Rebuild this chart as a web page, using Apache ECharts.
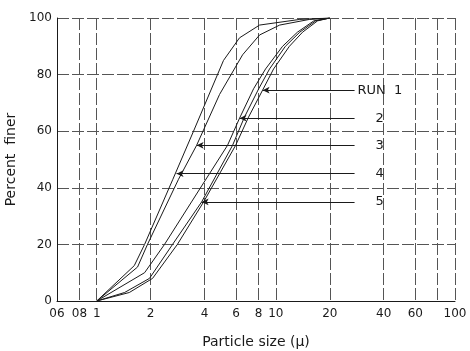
<!DOCTYPE html>
<html>
<head>
<meta charset="utf-8">
<script src="https://cdn.jsdelivr.net/npm/echarts@6/dist/echarts.min.js"></script>
<style>
html,body{margin:0;padding:0;background:#fff;}
#chart{width:470px;height:351px;}
</style>
</head>
<body>
<div id="chart"></div>
<script>
// Tick values and labels
const sizeTicks = [0.6, 0.8, 1, 2, 4, 6, 8, 10, 20, 40, 60, 80, 100];
const sizeTickLabels = ['06', '08', '1', '2', '4', '6', '8', '10', '20', '40', '60', '80', '100'];
const finerTicks = [0, 20, 40, 60, 80, 100];

// Curves: particle size (micron) vs percent finer
const run1Size = [1, 1.52, 2.05, 2.82, 3.95, 5.96, 7.04, 8.43, 9.71, 11.9, 14.1, 17.1, 20];
const run1Finer = [0, 3, 8, 20, 35, 55, 65, 74.5, 82, 90, 95, 99, 100];
const run2Size = [1, 1.85, 2.39, 3.38, 5.37, 6.27, 7.51, 8.76, 10.9, 13.2, 16.3, 20];
const run2Finer = [0, 10, 20, 35, 55, 64.6, 75, 82, 90, 95, 99, 100];
const run3Size = [1, 1.69, 1.92, 2.86, 3.61, 4.85, 6.52, 8.11, 10.5, 15.4, 20];
const run3Finer = [0, 12, 20, 43, 55, 73, 87, 94, 97.5, 99.5, 100];
const run4Size = [1, 1.62, 1.85, 2.66, 3.47, 5.1, 6.27, 8.11, 13.6, 20];
const run4Finer = [0, 12.5, 20, 43, 60, 85, 93, 97.5, 99.5, 100];
const run5Size = [1, 1.43, 1.97, 2.65, 3.85, 5.73, 6.68, 8.02, 9.22, 11.3, 13.6, 16.7, 20];
const run5Finer = [0, 3, 8, 20, 35, 55, 65, 75, 82, 90, 95, 99, 100];

// Callout arrows: label, tip size, tip percent, label end size
const runLabels = ['RUN  1', '2', '3', '4', '5'];
const arrowTipSize = [8.43, 6.27, 3.61, 2.79, 3.85];
const arrowTipFiner = [74.5, 64.6, 55, 45, 35];
const arrowEndSize = 27.5;

const runSizes = [run1Size, run2Size, run3Size, run4Size, run5Size];
const runFiners = [run1Finer, run2Finer, run3Finer, run4Finer, run5Finer];

const FONT = 'DejaVu Sans';
const INK = '#1a1a1a';
const GRIDC = '#555';

const series = runSizes.map((xs, i) => ({
  type: 'line',
  name: runLabels[i],
  data: xs.map((x, j) => [x, runFiners[i][j]]),
  showSymbol: false,
  symbol: 'none',
  lineStyle: { color: INK, width: 1 },
  z: 5,
  markLine: {
    silent: true,
    symbol: ['arrow', 'none'],
    symbolSize: [5, 7],
    lineStyle: { color: INK, width: 1, type: 'solid' },
    label: {
      show: true,
      position: 'end',
      formatter: runLabels[i],
      distance: i === 0 ? 3 : 21,
      fontFamily: FONT,
      fontSize: 13,
      color: INK
    },
    emphasis: { disabled: true },
    data: [[
      { coord: [arrowTipSize[i], arrowTipFiner[i]] },
      { coord: [arrowEndSize, arrowTipFiner[i]] }
    ]]
  }
}));

const chart = echarts.init(document.getElementById('chart'), null, { renderer: 'canvas' });
chart.setOption({
  animation: false,
  backgroundColor: '#fff',
  grid: { left: 57, right: 15, top: 18, bottom: 50, containLabel: false, outerBoundsMode: 'none' },
  xAxis: {
    type: 'log',
    logBase: 10,
    min: 0.6,
    max: 100,
    name: 'Particle size (\u03bc)',
    nameLocation: 'middle',
    nameGap: 34,
    nameTextStyle: { fontFamily: FONT, fontSize: 14, color: INK },
    axisLine: { show: true, lineStyle: { color: INK, width: 1 } },
    axisTick: { show: false, customValues: sizeTicks },
    axisLabel: {
      customValues: sizeTicks,
      showMinLabel: true,
      showMaxLabel: true,
      hideOverlap: false,
      formatter: (v) => {
        let best = 0, bd = Infinity;
        sizeTicks.forEach((t, k) => { const d = Math.abs(Math.log10(t) - Math.log10(v)); if (d < bd) { bd = d; best = k; } });
        return sizeTickLabels[best];
      },
      margin: 7,
      fontFamily: FONT,
      fontSize: 12,
      color: INK
    },
    splitLine: { show: true, lineStyle: { color: GRIDC, width: 1, type: [12, 3] } },
    minorTick: { show: false },
    minorSplitLine: { show: false }
  },
  yAxis: {
    type: 'value',
    min: 0,
    max: 100,
    interval: 20,
    name: 'Percent  finer',
    nameLocation: 'middle',
    nameGap: 35,
    nameTextStyle: { fontFamily: FONT, fontSize: 14, color: INK },
    axisLine: { show: true, lineStyle: { color: INK, width: 1 } },
    axisTick: { show: false },
    axisLabel: { margin: 5, fontFamily: FONT, fontSize: 12, color: INK },
    splitLine: { show: true, lineStyle: { color: GRIDC, width: 1, type: [12, 3] } }
  },
  series: series
});
</script>
</body>
</html>
